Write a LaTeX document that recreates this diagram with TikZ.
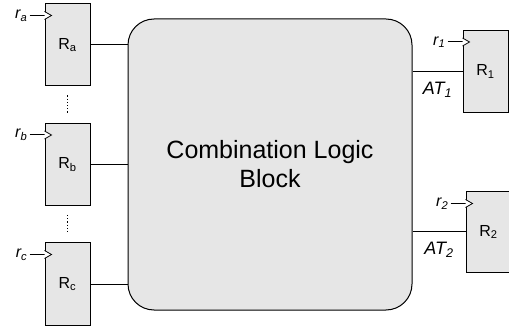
\documentclass[tikz,border=0pt]{standalone}
\usepackage{fontspec}
\setmainfont{Liberation Sans}
\usetikzlibrary{positioning, calc}
\definecolor{blkgray}{RGB}{230,230,230}

\begin{document}
\begin{tikzpicture} [x = 1pt, y = 1pt,
			reg/.style = {draw = black, line width = 1pt, fill = blkgray,
				minimum width = 45pt, minimum height = 82pt, inner sep = 0pt,
				font = \fontsize{16}{19}\selectfont
			},
			block/.style = {draw = black, line width = 1pt, fill = blkgray,
				rounded corners = 26pt, minimum width = 284pt, minimum height = 291pt,
				align = center, font = \fontsize{25}{29}\selectfont
			},
			wire/.style = {draw = black, line width = 1pt},
			clk/.style = {draw = black, line width = 0.8pt, fill = white},
			dots/.style = {draw = black, line width = 1.2pt, dotted},
			pinlbl/.style = {inner sep = 2pt, font = \fontsize{16}{19}\selectfont\itshape},
			atlbl/.style = {inner sep = 3pt, font = \fontsize{18}{21}\selectfont\itshape}
			]
			\useasboundingbox (0,0) rectangle (509,327);
			% Registers and logic block
			\node (Ra) [reg] at (67.5,282) {R\textsubscript{a}};
			\node (Rb) [reg] at (67.5,162.5) {R\textsubscript{b}};
			\node (Rc) [reg] at (67.5,43) {R\textsubscript{c}};
			\node (clb) [block] at (270,162.5) {Combination Logic\\Block};
			\node (R1) [reg] at (485.5,255.5) {R\textsubscript{1}};
			\node (R2) [reg, minimum height = 80pt] at (488.5,95) {R\textsubscript{2}};
			% Clock inputs
			\foreach \n/\s in {Ra/a, Rb/b, Rc/c, R1/1, R2/2} {
				\coordinate (\n-ck) at ($(\n.north west)+(0,-12)$);
				\coordinate (\n-in) at ($(\n-ck)+(-15,0)$);
				\draw [wire] (\n-in) -- (\n-ck);
				\draw [clk] ($(\n-ck)+(0,4)$) -- ($(\n-ck)+(7,0)$) -- ($(\n-ck)+(0,-4)$);
				\node (\n-lbl) [pinlbl, left = 0pt of \n-in] {r\textsubscript{\s}};
			}
			% Wires into and out of the block
			\draw [wire] (Ra.east) -- (Ra.east -| clb.west);
			\draw [wire] (Rb.east) -- (Rb.east -| clb.west);
			\draw [wire] (Rc.east) -- (Rc.east -| clb.west);
			\draw [wire] (clb.east |- R1.west) -- node (at1) [atlbl, below = 7pt] {AT\textsubscript{1}} (R1.west);
			\draw [wire] (clb.east |- R2.west) -- node (at2) [atlbl, below = 7pt] {AT\textsubscript{2}} (R2.west);
			% Dots between registers
			\draw [dots] ($(Ra.south)+(0,-9)$) -- ($(Rb.north)+(0,9)$);
			\draw [dots] ($(Rb.south)+(0,-9)$) -- ($(Rc.north)+(0,9)$);
		\end{tikzpicture}
\end{document}
